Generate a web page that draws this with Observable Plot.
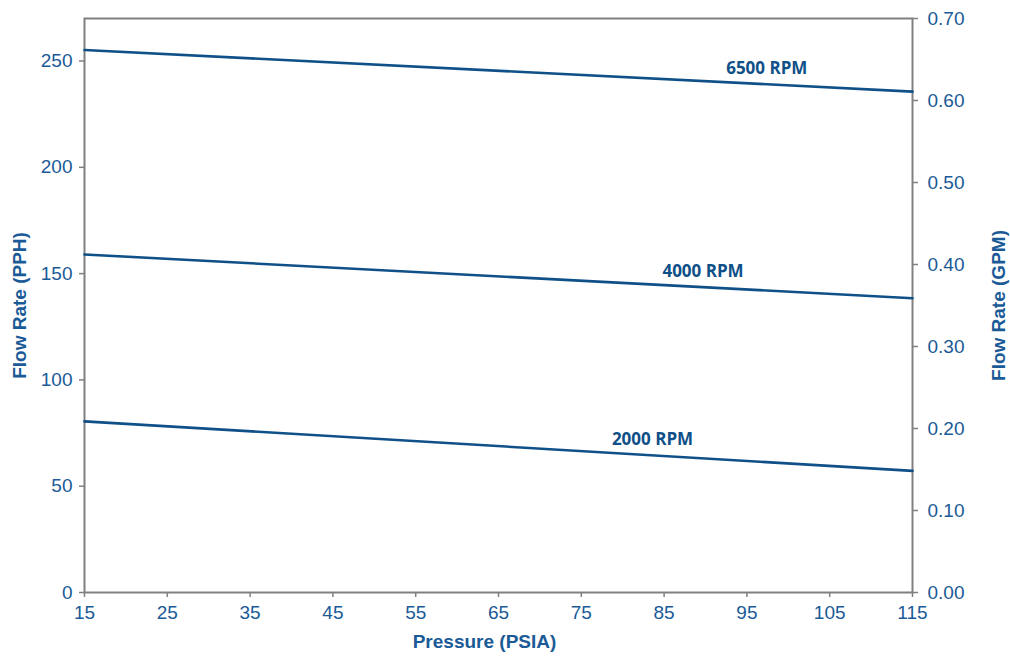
<!DOCTYPE html>
<html>
<head>
<meta charset="utf-8">
<script src="https://cdn.jsdelivr.net/npm/d3@7"></script>
<script src="https://cdn.jsdelivr.net/npm/@observablehq/plot@0.6"></script>
<style>
  html, body { margin: 0; padding: 0; background: #fff; }
</style>
</head>
<body>
<div id="chart"></div>
<script>
// Data
const pressure = [15, 115];
const series = ["6500 RPM", "4000 RPM", "2000 RPM"];
const flowPPH = [
  [255.2, 235.6],
  [159.0, 138.4],
  [80.5, 57.2]
];
const labelPressure = [97.4, 89.7, 83.6];
const labelPPH = [246.5, 151.0, 72.0];
const xTicks = [15, 25, 35, 45, 55, 65, 75, 85, 95, 105, 115];
const yTicksPPH = [0, 50, 100, 150, 200, 250];
const yTicksGPM = [0, 0.1, 0.2, 0.3, 0.4, 0.5, 0.6, 0.7];
const pphMax = 270;
const gpmMax = 0.7;

const rows = [];
series.forEach((s, i) => pressure.forEach((p, j) => rows.push({series: s, pressure: p, pph: flowPPH[i][j]})));
const labels = series.map((s, i) => ({series: s, pressure: labelPressure[i], pph: labelPPH[i]}));

const textColor = "#1a5a96";
const lineColor = "#0f5088";
const axisColor = "#808080";

const chart = Plot.plot({
  width: 1010,
  height: 657,
  marginLeft: 84,
  marginRight: 98,
  marginTop: 18,
  marginBottom: 65,
  style: {fontFamily: "'Liberation Sans', Arial, sans-serif", fontSize: "19px", color: textColor, background: "#fff"},
  x: {domain: [15, 115], axis: null},
  y: {domain: [0, pphMax], axis: null},
  marks: [
    Plot.frame({stroke: axisColor, strokeWidth: 2}),
    Plot.axisX(xTicks, {tickSize: 5, tickPadding: 8, stroke: axisColor, fill: textColor, fontSize: 19, label: null, strokeWidth: 1.5}),
    Plot.axisY(yTicksPPH, {anchor: "left", tickSize: 5, tickPadding: 7, stroke: axisColor, fill: textColor, fontSize: 19, label: null, strokeWidth: 1.5}),
    Plot.axisY(yTicksGPM.map(v => v * pphMax / gpmMax), {anchor: "right", tickSize: 5, tickPadding: 10, stroke: axisColor, fill: textColor, fontSize: 19, label: null, strokeWidth: 1.5,
      tickFormat: d => (d * gpmMax / pphMax).toFixed(2)}),
    Plot.line(rows, {x: "pressure", y: "pph", z: "series", stroke: lineColor, strokeWidth: 2.6}),
    Plot.text(labels, {x: "pressure", y: "pph", text: "series", fill: lineColor, fontFamily: "'Open Sans', sans-serif", fontWeight: "bold", fontSize: 17}),
    Plot.text(["Pressure (PSIA)"], {frameAnchor: "bottom", textAnchor: "middle", dy: 55, dx: -14, fill: textColor, fontWeight: "bold", fontSize: 19}),
    Plot.text(["Flow Rate (PPH)"], {frameAnchor: "left", textAnchor: "middle", dx: -65, rotate: -90, fill: textColor, fontWeight: "bold", fontSize: 19}),
    Plot.text(["Flow Rate (GPM)"], {frameAnchor: "right", textAnchor: "middle", dx: 86, rotate: -90, fill: textColor, fontWeight: "bold", fontSize: 19})
  ]
});
document.getElementById("chart").appendChild(chart);
</script>
</body>
</html>
